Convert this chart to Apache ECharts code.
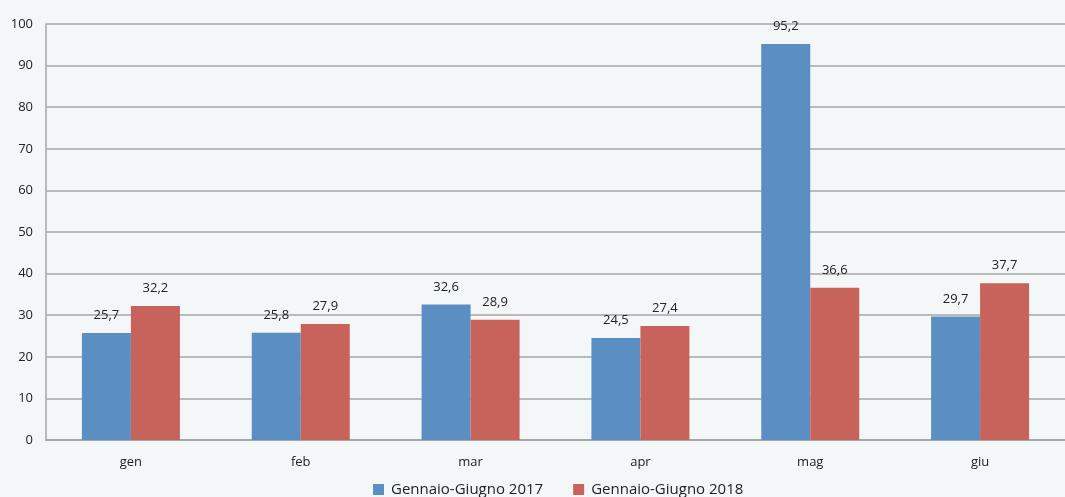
<!DOCTYPE html>
<html><head><meta charset="utf-8">
<script src="https://cdn.jsdelivr.net/npm/echarts@6/dist/echarts.min.js"></script>
<style>html,body{margin:0;padding:0;background:#f4f7f7;}#c{width:1065px;height:497px;}</style>
</head><body><div id="c"></div>
<script>
const categories = ['gen','feb','mar','apr','mag','giu'];
const series2017 = [25.7, 25.8, 32.6, 24.5, 95.2, 29.7];
const series2018 = [32.2, 27.9, 28.9, 27.4, 36.6, 37.7];
const yTicks = {min: 0, max: 100, interval: 10};
const names = ['Gennaio-Giugno 2017', 'Gennaio-Giugno 2018'];

const fmt = p => String(p.value).replace('.', ',');
const font = '"Open Sans", "Liberation Sans", sans-serif';
const chart = echarts.init(document.getElementById('c'));
chart.setOption({
  backgroundColor: '#f4f7f7',
  animation: false,
  textStyle: {fontFamily: font},
  grid: {left: 46, right: 0, top: 24, bottom: 57},
  legend: {
    bottom: -5, left: 368, itemWidth: 11, itemHeight: 11, itemGap: 30,
    icon: 'rect',
    textStyle: {fontSize: 15, color: '#222', fontFamily: font, padding: [0, 0, 0, 2]},
    data: names
  },
  xAxis: {
    type: 'category', data: categories,
    axisLine: {lineStyle: {color: '#a6a6a6', width: 2}},
    axisTick: {show: false},
    axisLabel: {fontSize: 13, color: '#222', margin: 16}
  },
  yAxis: {
    type: 'value', min: yTicks.min, max: yTicks.max, interval: yTicks.interval,
    axisLine: {show: true, lineStyle: {color: '#a6a6a6', width: 1.5}},
    axisTick: {show: false},
    splitLine: {lineStyle: {color: '#a6a6a6', width: 1.5}},
    axisLabel: {fontSize: 13, color: '#222', margin: 13}
  },
  series: [
    {name: names[0], type: 'bar', data: series2017, barWidth: 49, barGap: '0%',
     itemStyle: {color: '#5b8fc3'},
     label: {show: true, position: 'top', distance: 11, fontSize: 13, color: '#222', formatter: fmt}},
    {name: names[1], type: 'bar', data: series2018, barWidth: 49, barGap: '0%',
     itemStyle: {color: '#c7635b'},
     label: {show: true, position: 'top', distance: 11, fontSize: 13, color: '#222', formatter: fmt}}
  ]
});
</script></body></html>
